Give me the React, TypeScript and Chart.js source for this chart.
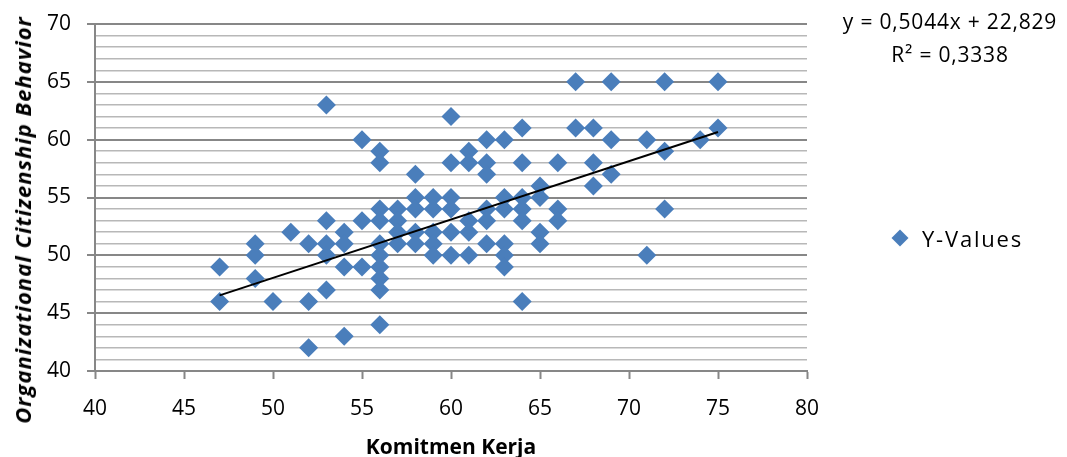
import React, { useEffect, useRef } from "react";
import { Chart, registerables } from "chart.js";

Chart.register(...registerables);

// Komitmen Kerja (x) and Organizational Citizenship Behavior (y), paired by index
const xValues: number[] = [
  47, 47,
  49, 49, 49,
  50,
  51,
  52, 52, 52,
  53, 53, 53, 53, 53,
  54, 54, 54, 54,
  55, 55, 55,
  56, 56, 56, 56, 56, 56, 56, 56, 56, 56,
  57, 57, 57, 57,
  58, 58, 58, 58, 58,
  59, 59, 59, 59, 59,
  60, 60, 60, 60, 60, 60,
  61, 61, 61, 61, 61,
  62, 62, 62, 62, 62, 62,
  63, 63, 63, 63, 63, 63,
  64, 64, 64, 64, 64, 64,
  65, 65, 65, 65,
  66, 66, 66,
  67, 67,
  68, 68, 68,
  69, 69, 69,
  71, 71,
  72, 72, 72,
  74,
  75, 75,
];
const yValues: number[] = [
  49, 46,
  51, 50, 48,
  46,
  52,
  51, 46, 42,
  63, 53, 51, 50, 47,
  52, 51, 49, 43,
  60, 53, 49,
  59, 58, 54, 53, 51, 50, 49, 48, 47, 44,
  54, 53, 52, 51,
  57, 55, 54, 52, 51,
  55, 54, 52, 51, 50,
  62, 58, 55, 54, 52, 50,
  59, 58, 53, 52, 50,
  60, 58, 57, 54, 53, 51,
  60, 55, 54, 51, 50, 49,
  61, 58, 55, 54, 53, 46,
  56, 55, 52, 51,
  58, 54, 53,
  65, 61,
  61, 58, 56,
  65, 60, 57,
  60, 50,
  65, 59, 54,
  60,
  65, 61,
];

// Linear trend line reported on the chart
const trendSlope = 0.5044;
const trendIntercept = 22.829;
const equationText = "y = 0,5044x + 22,829";
const rSquaredText = "R² = 0,3338";

const seriesName = "Y-Values";
const xTitle = "Komitmen Kerja";
const yTitle = "Organizational Citizenship Behavior";

const FONT = "'Open Sans', 'Liberation Sans', sans-serif";
const MARKER = "#4A7EBB";
const MAJOR = "#878787";
const MINOR = "#b8b8b8";

export default function App() {
  const canvasRef = useRef<HTMLCanvasElement | null>(null);

  useEffect(() => {
    document.body.style.margin = "0";
    const canvas = canvasRef.current;
    if (!canvas) return;

    const points = xValues.map((x, i) => ({ x, y: yValues[i] }));
    const xMin = Math.min(...xValues);
    const xMax = Math.max(...xValues);
    const trend = [xMin, xMax].map((x) => ({ x, y: trendSlope * x + trendIntercept }));

    const isMajor = (v: number) => Math.abs(v % 5) < 1e-9;

    const chart = new Chart(canvas, {
      type: "scatter",
      data: {
        datasets: [
          {
            label: seriesName,
            data: points,
            pointStyle: "rectRot",
            pointRadius: 9.5,
            pointHoverRadius: 9.5,
            backgroundColor: MARKER,
            borderColor: MARKER,
            borderWidth: 0,
            order: 2,
          },
          {
            type: "line",
            label: "trend",
            data: trend,
            borderColor: "#000000",
            borderWidth: 2,
            pointRadius: 0,
            fill: false,
            order: 1,
          } as any,
        ],
      },
      options: {
        responsive: false,
        animation: false,
        events: [],
        layout: { padding: { top: 24, right: 260, left: 0, bottom: 0 } },
        plugins: {
          legend: { display: false },
          tooltip: { enabled: false },
          title: { display: false },
        },
        scales: {
          x: {
            type: "linear",
            min: 40,
            max: 80,
            ticks: {
              stepSize: 5,
              color: "#000000",
              font: { family: FONT, size: 21 },
              padding: 17,
            },
            grid: {
              drawOnChartArea: false,
              drawTicks: true,
              tickLength: 8,
              tickColor: MAJOR,
              tickWidth: 2,
            },
            border: { display: true, color: MAJOR, width: 2 },
            title: {
              display: true,
              text: xTitle,
              color: "#000000",
              font: { family: FONT, size: 21, weight: "bold", lineHeight: 0.85 },
              padding: { top: 0, bottom: 0 },
            },
            afterFit: (scale: any) => {
              scale.height = 86;
            },
          },
          y: {
            type: "linear",
            min: 40,
            max: 70,
            ticks: {
              stepSize: 1,
              autoSkip: false,
              color: "#000000",
              font: { family: FONT, size: 21 },
              padding: 16,
              callback: (v: any) => (isMajor(Number(v)) ? String(v) : ""),
            },
            grid: {
              drawTicks: true,
              tickLength: 8,
              color: (ctx: any) => (ctx.tick && isMajor(ctx.tick.value) ? MAJOR : MINOR),
              lineWidth: (ctx: any) => (ctx.tick && isMajor(ctx.tick.value) ? 2 : 1.5),
              tickColor: (ctx: any) =>
                ctx.tick && isMajor(ctx.tick.value) ? MAJOR : "rgba(0,0,0,0)",
              tickWidth: 2,
            },
            border: { display: true, color: MAJOR, width: 2 },
            title: { display: false },
            afterFit: (scale: any) => {
              scale.width = 95;
              scale.paddingTop = 0;
              scale.paddingBottom = 0;
            },
          },
        },
      },
    });

    return () => {
      chart.destroy();
    };
  }, []);

  return (
    <div style={{ position: "relative", width: 1067, height: 457, background: "#ffffff", fontFamily: FONT }}>
      <canvas ref={canvasRef} width={1067} height={457} style={{ display: "block", width: 1067, height: 457 }} />
      <div
        style={{
          position: "absolute",
          left: 22,
          top: 220,
          transform: "translate(-50%, -50%) rotate(-90deg)",
          whiteSpace: "nowrap",
          fontSize: 22,
          letterSpacing: 1,
          fontWeight: "bold",
          fontStyle: "italic",
          color: "#000",
          lineHeight: 1,
        }}
      >
        {yTitle}
      </div>
      <div
        style={{
          position: "absolute",
          left: 950,
          top: 5,
          transform: "translateX(-50%)",
          textAlign: "center",
          whiteSpace: "nowrap",
          fontSize: 21,
          letterSpacing: 0.8,
          lineHeight: "33px",
          color: "#000",
        }}
      >
        <div>{equationText}</div>
        <div>{rSquaredText}</div>
      </div>
      <div
        style={{
          position: "absolute",
          left: 894,
          top: 223,
          display: "flex",
          alignItems: "center",
          whiteSpace: "nowrap",
          fontSize: 22,
          letterSpacing: 1.8,
          color: "#000",
        }}
      >
        <span
          style={{
            display: "inline-block",
            width: 12,
            height: 12,
            background: MARKER,
            transform: "rotate(45deg)",
            marginRight: 16,
          }}
        />
        <span>{seriesName}</span>
      </div>
    </div>
  );
}
